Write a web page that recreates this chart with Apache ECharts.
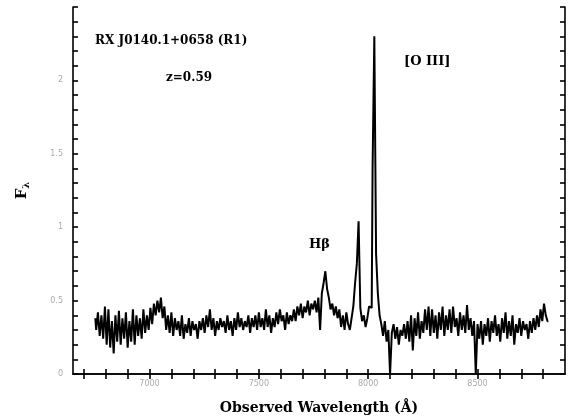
<!DOCTYPE html>
<html><head><meta charset="utf-8">
<script src="https://cdn.jsdelivr.net/npm/echarts@6/dist/echarts.min.js"></script>
<style>html,body{margin:0;padding:0;background:#fff}#c{width:568px;height:420px}</style>
</head><body><div id="c"></div>
<script>
// wavelength sampling of the spectrum (Angstrom)
const lambdaStart = 6752;
const lambdaStep = 8;
// flux F_lambda
const flux = [
0.38,0.30,0.42,0.26,0.40,0.24,
0.46,0.20,0.44,0.18,0.36,0.14,
0.40,0.22,0.43,0.20,0.38,0.24,
0.42,0.18,0.36,0.22,0.44,0.20,
0.40,0.26,0.38,0.24,0.44,0.28,
0.40,0.30,0.45,0.34,0.48,0.40,
0.50,0.42,0.52,0.38,0.46,0.30,
0.40,0.28,0.42,0.26,0.38,0.30,
0.36,0.26,0.40,0.24,0.34,0.28,
0.38,0.26,0.36,0.30,0.34,0.24,
0.36,0.30,0.38,0.28,0.40,0.32,
0.44,0.30,0.38,0.26,0.36,0.30,
0.38,0.32,0.36,0.28,0.40,0.30,
0.36,0.26,0.38,0.30,0.42,0.32,
0.38,0.30,0.36,0.32,0.40,0.28,
0.38,0.32,0.40,0.30,0.42,0.32,
0.38,0.30,0.44,0.32,0.40,0.28,
0.38,0.32,0.42,0.34,0.44,0.36,
0.40,0.30,0.42,0.34,0.40,0.36,
0.44,0.36,0.46,0.40,0.48,0.38,
0.46,0.42,0.50,0.40,0.48,0.44,
0.50,0.42,0.52,0.30,0.55,0.62,
0.70,0.58,0.52,0.44,0.48,0.40,
0.46,0.38,0.44,0.32,0.40,0.30,
0.42,0.34,0.30,0.38,0.46,0.62,
0.75,1.04,0.45,0.36,0.40,0.32,
0.38,0.46,0.45,1.40,2.30,0.82,
0.55,0.40,0.34,0.26,0.36,0.22,
0.30,0.00,0.28,0.34,0.24,0.32,
0.20,0.30,0.26,0.34,0.24,0.36,
0.22,0.40,0.16,0.38,0.26,0.42,
0.24,0.36,0.28,0.44,0.30,0.46,
0.26,0.44,0.28,0.40,0.24,0.42,
0.30,0.46,0.26,0.40,0.30,0.44,
0.28,0.46,0.32,0.38,0.26,0.42,
0.30,0.40,0.28,0.47,0.30,0.38,
0.26,0.36,0.00,0.34,0.24,0.36,
0.20,0.34,0.26,0.38,0.22,0.36,
0.28,0.40,0.26,0.34,0.22,0.38,
0.28,0.42,0.24,0.36,0.26,0.40,
0.20,0.34,0.28,0.38,0.26,0.36,
0.30,0.34,0.24,0.36,0.28,0.38,
0.30,0.40,0.32,0.44,0.36,0.48,
0.40,0.36
];
const xTicks = [6700,6800,6900,7000,7100,7200,7300,7400,7500,7600,7700,7800,7900,8000,8100,8200,8300,8400,8500,8600,8700,8800];
const xTickLabels = [7000,7500,8000,8500];
const yTickLabels = [0,0.5,1,1.5,2];

const data = flux.map((f,i)=>[lambdaStart + i*lambdaStep, f]);

const chart = echarts.init(document.getElementById('c'));
const lblStyle = {color:'#aaa', fontSize:8, fontFamily:'DejaVu Sans'};
const axLine = {show:true, lineStyle:{color:'#000', width:1.6}};
const tick = {inside:true, length:5, lineStyle:{color:'#000', width:1.6}};
const serif = 'DejaVu Serif';
chart.setOption({
  animation:false,
  backgroundColor:'#fff',
  grid:{left:73, right:3, top:7, bottom:44},
  xAxis:[{
    type:'value', min:6650, max:8900, position:'bottom',
    axisLine:axLine,
    axisTick:{...tick, customValues:xTicks},
    axisLabel:{...lblStyle, customValues:xTickLabels, margin:6, formatter:v=>String(v)},
    splitLine:{show:false},
    name:'Observed Wavelength (Å)', nameLocation:'middle', nameGap:27,
    nameTextStyle:{fontSize:14, fontWeight:'bold', color:'#000', fontFamily:serif}
  },{
    type:'value', min:6650, max:8900, position:'top',
    axisLine:axLine,
    axisTick:{...tick, customValues:xTicks},
    axisLabel:{show:false}, splitLine:{show:false}
  }],
  yAxis:[{
    type:'value', min:0, max:2.5, interval:0.1, position:'left',
    axisLine:axLine,
    axisTick:tick,
    axisLabel:{...lblStyle, margin:10, formatter:v=>{const r=Math.round(v*10)/10; return yTickLabels.includes(r)?String(r):'';}},
    splitLine:{show:false},
    name:'{a|F}{b|λ}', nameLocation:'middle', nameGap:42, nameRotate:90,
    nameTextStyle:{rich:{a:{fontSize:15,fontWeight:'bold',color:'#000',fontFamily:serif},b:{fontSize:10,fontWeight:'bold',color:'#000',fontFamily:serif,padding:[8,0,0,0]}}}
  },{
    type:'value', min:0, max:2.5, interval:0.1, position:'right',
    axisLine:axLine,
    axisTick:tick,
    axisLabel:{show:false}, splitLine:{show:false}
  }],
  series:[{
    type:'line', data:data, step:'middle', showSymbol:false,
    xAxisIndex:0, yAxisIndex:0,
    lineStyle:{color:'#000', width:2}
  }],
  graphic:[
    {type:'text', left:95, top:35, style:{text:'RX J0140.1+0658 (R1)', font:'bold 12px "DejaVu Serif"', fill:'#000'}},
    {type:'text', left:166, top:72, style:{text:'z=0.59', font:'bold 12px "DejaVu Serif"', fill:'#000'}},
    {type:'text', left:404, top:55, style:{text:'[O III]', font:'bold 13px "DejaVu Serif"', fill:'#000'}},
    {type:'text', left:309, top:238, style:{text:'Hβ', font:'bold 13px "DejaVu Serif"', fill:'#000'}}
  ]
});
</script></body></html>
